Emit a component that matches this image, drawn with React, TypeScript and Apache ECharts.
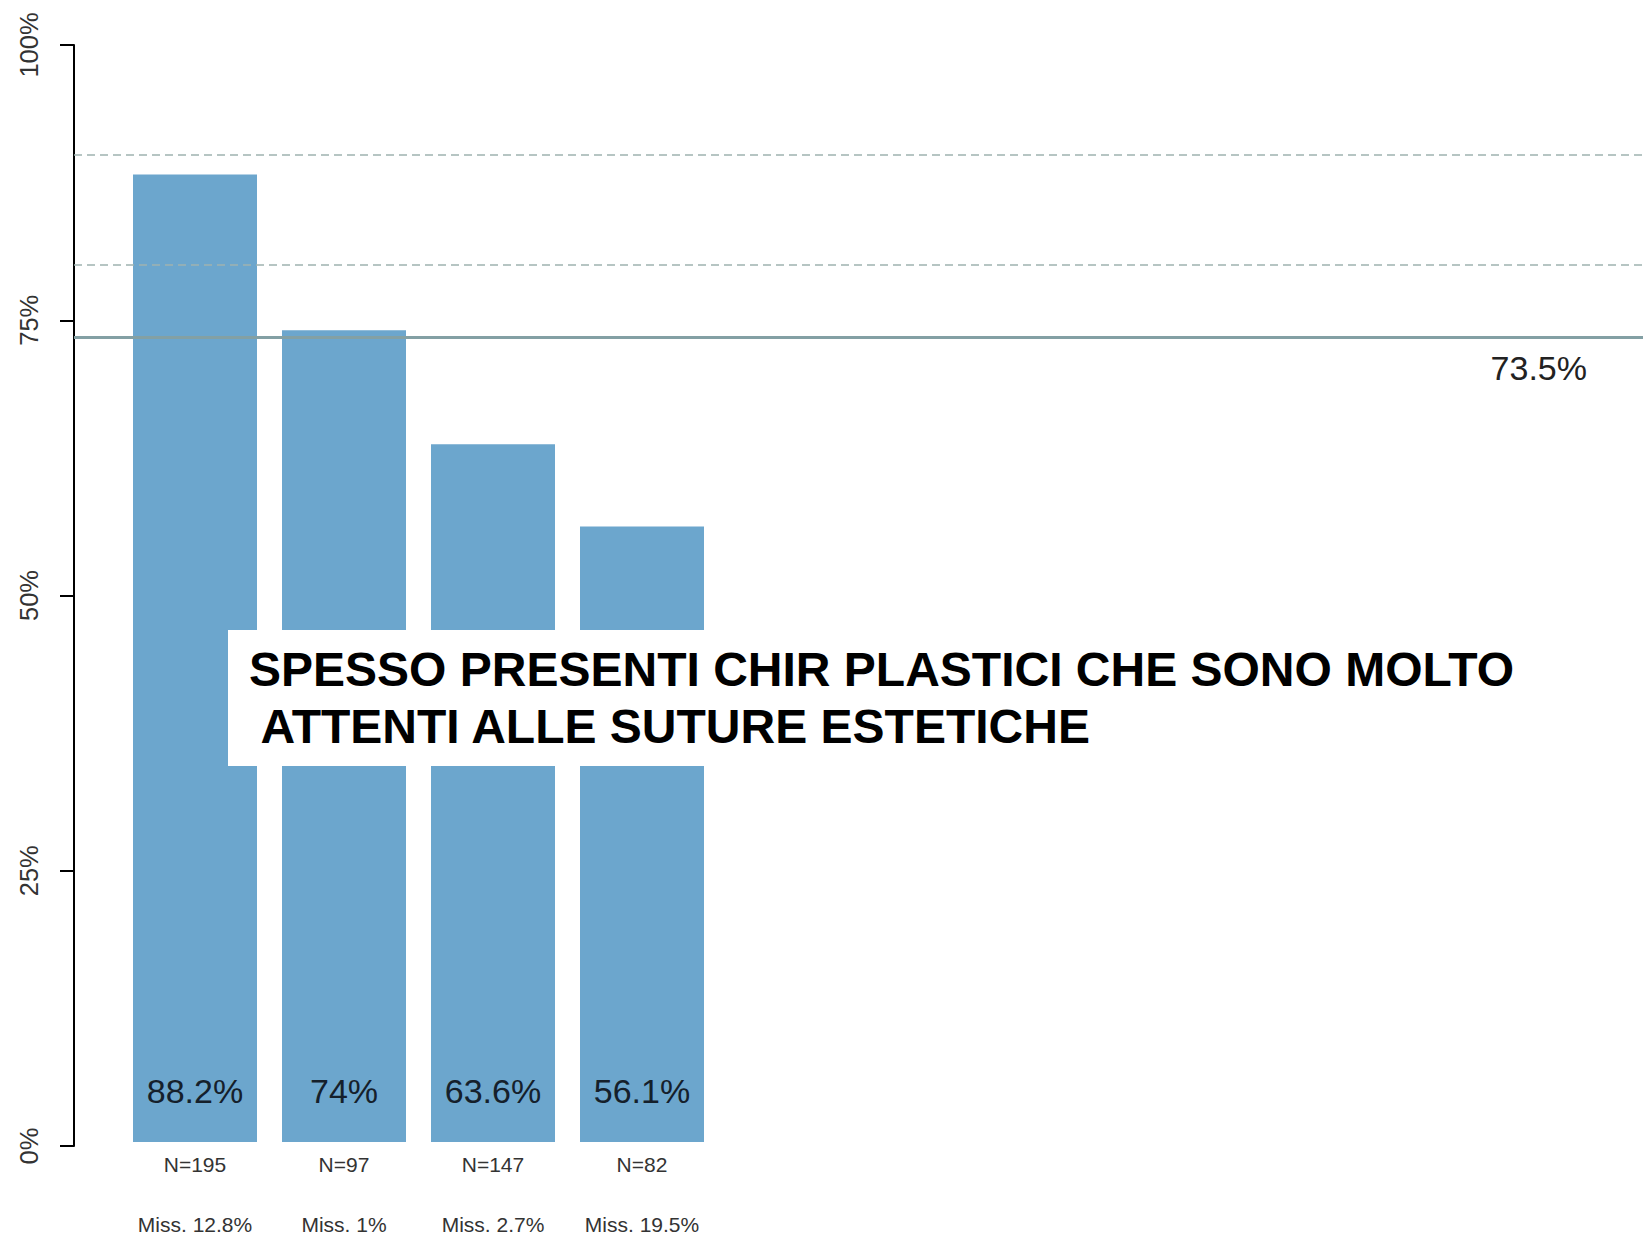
import React, { useEffect, useRef } from "react";
import * as echarts from "echarts";

// ---- data ----
const values = [88.2, 74, 63.6, 56.1];
const nCounts = [195, 97, 147, 82];
const missPct = [12.8, 1, 2.7, 19.5];
const refDashed = [90, 80];
const overall = 73.5;
const yTicks = { min: 0, max: 100, interval: 25 };
const overlayLines = [
  "SPESSO PRESENTI CHIR PLASTICI CHE SONO MOLTO",
  " ATTENTI ALLE SUTURE ESTETICHE",
];

const categories = nCounts.map((n, i) => `N=${n}\n\nMiss. ${missPct[i]}%`);

const FONT = "'Liberation Sans', Arial, Helvetica, sans-serif";

export default function App() {
  const ref = useRef<HTMLDivElement>(null);
  useEffect(() => {
    document.body.style.margin = "0";
    const chart = echarts.init(ref.current!, null, { renderer: "svg" });
    const option: any = {
      animation: false,
      backgroundColor: "#ffffff",
      grid: [
        { left: 74, right: 0, top: 45, bottom: 93 },
        { left: 120.5, width: 596, top: 45, bottom: 93 },
      ],
      xAxis: [
        { type: "value", gridIndex: 0, min: 0, max: 1, show: false },
        {
          type: "category",
          gridIndex: 1,
          data: categories,
          axisLine: { show: false },
          axisTick: { show: false },
          axisLabel: {
            margin: 7,
            fontSize: 21,
            lineHeight: 30,
            color: "#333",
            fontFamily: FONT,
            interval: 0,
          },
        },
      ],
      yAxis: [
        {
          type: "value",
          gridIndex: 0,
          min: yTicks.min,
          max: yTicks.max,
          interval: yTicks.interval,
          axisLine: { show: true, lineStyle: { color: "#000", width: 2 } },
          axisTick: { show: true, length: 14, lineStyle: { color: "#000", width: 2 } },
          splitLine: { show: false },
          axisLabel: {
            rotate: 90,
            margin: 32,
            fontSize: 25.5,
            color: "#333",
            fontFamily: FONT,
            formatter: "{value}%",
          },
        },
        { type: "value", gridIndex: 1, min: yTicks.min, max: yTicks.max, show: false },
      ],
      series: [
        {
          type: "line",
          xAxisIndex: 0,
          yAxisIndex: 0,
          data: [],
          z: 1,
          markLine: {
            silent: true,
            symbol: ["none", "none"],
            data: [
              ...refDashed.map((v) => ({
                yAxis: v,
                lineStyle: { color: "#9fb2b0", width: 1.5, type: [8, 5] },
                label: { show: false },
              })),
              {
                yAxis: overall,
                lineStyle: { color: "#83a0a4", width: 3, type: "solid" },
                label: {
                  show: true,
                  position: "insideEndBottom",
                  distance: [56, 14],
                  formatter: `${overall}%`,
                  fontSize: 34,
                  color: "#222",
                  fontFamily: FONT,
                },
              },
            ],
          },
        },
        {
          type: "bar",
          xAxisIndex: 1,
          yAxisIndex: 1,
          data: values,
          barWidth: 124,
          z: 3,
          itemStyle: { color: "#6CA6CD" },
          label: {
            show: true,
            position: "insideBottom",
            distance: 34,
            fontSize: 34,
            color: "#15202b",
            fontFamily: FONT,
            formatter: (p: any) => `${p.value}%`,
          },
        },
      ],
      graphic: [
        {
          type: "rect",
          left: 228,
          top: 630,
          shape: { width: 1415, height: 136 },
          style: { fill: "#ffffff" },
          z: 100,
        },
        ...overlayLines.map((t, i) => ({
          type: "text",
          x: 249,
          y: 669 + i * 57,
          z: 101,
          style: {
            text: t,
            fill: "#000",
            fontSize: 48,
            fontWeight: "bold",
            fontFamily: FONT,
            align: "left",
            verticalAlign: "middle",
            textAlign: "left",
            textVerticalAlign: "middle",
          },
        })),
      ],
    };
    chart.setOption(option);
    return () => chart.dispose();
  }, []);
  return (
    <div
      ref={ref}
      style={{ position: "absolute", left: 0, top: 0, width: 1643, height: 1239 }}
    />
  );
}
